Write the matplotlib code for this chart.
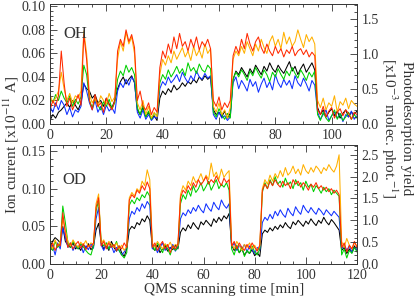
import numpy as np
import matplotlib
matplotlib.use("Agg")
import matplotlib.pyplot as plt
from matplotlib.ticker import MultipleLocator

# =========================================================================
# DATA  (ion current, units of 1e-3 x10^-11 A, one sample per minute)
# =========================================================================

oh_black = [3, 8, 5, 10, 12, 15, 18, 14, 20, 16, 12, 18, 34, 30,
            28, 22, 25, 18, 20, 15, 22, 17, 14, 20,
            30, 36, 40, 34, 38, 41, 35,
            12, 8, 14, 6, 10, 4, 7, 3,
            22, 28, 25, 30, 27, 33, 29, 31, 35, 32, 36, 34, 38, 35, 40, 37, 41, 38, 40,
            12, 8, 10, 6, 11, 5, 9,
            38, 45, 42, 48, 44, 40, 47, 43, 50, 46, 42, 49, 45, 52, 47, 44, 50, 46, 43, 48,
            53, 45, 49, 42, 47, 51, 44, 48, 52, 46,
            14, 8, 12, 6, 10, 13, 7, 11, 5, 9, 12, 6, 10, 8, 11]
oh_blue = [15, 10, 18, 12, 20, 16, 8, 14, 6, 12, 10, 15, 35, 28,
           18, 12, 20, 10, 15, 8, 16, 11, 14, 9,
           28, 35, 31, 38, 33, 40, 36,
           10, 5, 12, 4, 8, 3, 6, 5,
           30, 36, 33, 40, 35, 38, 42, 36, 44, 39, 35, 41, 37, 45, 40, 38, 43, 39, 41,
           8, 4, 10, 5, 7, 3, 6,
           35, 40, 30, 37, 33, 28, 38, 32, 36, 27, 34, 39, 31, 36, 29, 42, 35, 31, 38, 33,
           37, 30, 41, 35, 32, 39, 34, 28, 37, 33,
           10, 4, 8, 12, 3, 7, 10, 5, 9, 2, 8, 6, 11, 4, 7]
oh_green = [22, 18, 25, 20, 28, 22, 18, 24, 15, 21, 17, 23, 50, 42,
            20, 14, 22, 16, 12, 19, 15, 21, 13, 18,
            38, 45, 41, 50, 44, 48, 42,
            14, 8, 16, 6, 11, 4, 9, 7,
            35, 42, 38, 46, 40, 44, 49, 43, 47, 41, 52, 45, 48, 43, 51, 46, 44, 50, 47,
            10, 6, 13, 8, 4, 9, 5,
            38, 44, 40, 46, 42, 37, 45, 41, 48, 43, 39, 46, 42, 36, 44, 40, 47, 42, 38, 45,
            41, 48, 43, 39, 46, 42, 37, 44, 40, 45,
            8, 3, 10, 5, 2, 7, 12, 4, 9, 3, 6, 10, 4, 8, 5]
oh_orange = [25, 18, 22, 28, 44, 30, 20, 26, 18, 24, 22, 28, 79, 60,
             25, 18, 22, 15, 24, 20, 17, 26, 19, 23,
             55, 70, 62, 78, 68, 74, 60,
             18, 12, 20, 8, 15, 5, 10, 6,
             42, 55, 50, 58, 52, 62, 55, 60, 65, 57, 62, 54, 66, 58, 63, 56, 68, 60, 64,
             15, 10, 18, 8, 12, 5, 14,
             55, 62, 58, 66, 60, 70, 64, 58, 68, 62, 72, 65, 60, 70, 75, 66, 72, 64, 78, 68,
             74, 66, 70, 80, 72, 65, 76, 70, 74, 68,
             20, 14, 22, 12, 18, 15, 24, 10, 19, 16, 22, 13, 20, 17, 15]
oh_red = [12, 20, 15, 24, 62, 35, 15, 22, 12, 18, 25, 16, 76, 55,
          20, 12, 25, 15, 18, 10, 22, 16, 12, 20,
          62, 72, 66, 80, 70, 76, 65,
          20, 28, 15, 12, 18, 8, 14, 10,
          48, 62, 56, 68, 60, 74, 64, 77, 66, 70, 62, 72, 65, 74, 63, 70, 66, 72, 64,
          20, 15, 23, 12, 18, 14, 20,
          58, 66, 60, 72, 64, 77, 68, 62, 70, 74, 65, 60, 68, 62, 58, 66, 60, 64, 57, 63,
          60, 66, 58, 62, 64, 59, 63, 57, 61, 58,
          12, 8, 15, 6, 11, 14, 5, 10, 13, 7, 12, 9, 4, 10, 8]

od_black = [22, 30, 35, 32, 28, 50, 30,
            25, 22, 28, 20, 24, 18, 26, 21, 27, 19, 23, 45, 54,
            28, 20, 25, 18, 30, 22, 17, 24, 15, 10, 20,
            45, 50, 47, 55, 52, 60, 56, 64, 58,
            22, 18, 25, 15, 20, 24, 17, 22, 19, 25, 20,
            42, 48, 44, 52, 47, 55, 50, 46, 56, 52, 58, 54, 50, 60, 55, 62, 57, 64, 60, 67,
            25, 18, 22, 15, 20, 12, 17, 14, 19, 11, 15, 10,
            40, 45, 42, 48, 44, 50, 46, 52, 48, 55, 50, 47, 56, 52, 58, 54, 50, 57, 53, 60,
            55, 51, 58, 54, 62, 56, 52, 59, 55, 50, 45,
            18, 22, 14, 20, 16, 24, 18]
od_blue = [18, 25, 12, 28, 20, 48, 35,
           22, 28, 18, 25, 20, 26, 15, 24, 19, 27, 21, 60, 75,
           25, 18, 28, 20, 24, 15, 22, 18, 12, 16, 22,
           60, 70, 66, 75, 70, 80, 74, 83, 78,
           20, 25, 15, 22, 28, 18, 24, 20, 26, 17, 23,
           60, 68, 64, 72, 67, 75, 70, 78, 72, 68, 80, 74, 70, 82, 76, 72, 85, 78, 74, 80,
           22, 28, 18, 25, 20, 26, 16, 24, 19, 14, 22, 18,
           55, 62, 58, 66, 60, 70, 64, 72, 66, 62, 74, 68, 64, 76, 70, 66, 78, 72, 68, 75,
           70, 66, 74, 70, 65, 72, 68, 64, 70, 66, 62,
           20, 26, 18, 24, 15, 22, 19]
od_green = [25, 18, 30, 22, 27, 77, 55,
            28, 22, 30, 25, 20, 27, 23, 18, 14, 12, 24, 70, 85,
            30, 24, 28, 20, 26, 22, 30, 18, 12, 8, 15,
            78, 85, 80, 88, 84, 92, 88, 96, 90,
            25, 18, 28, 22, 15, 26, 20, 12, 24, 18, 22,
            80, 92, 86, 98, 90, 104, 95, 100, 108, 97, 103, 110, 98, 105, 112, 100, 106, 102, 108, 98,
            20, 12, 25, 15, 22, 10, 18, 14, 24, 16, 12, 20,
            95, 108, 100, 112, 104, 116, 106, 110, 102, 114, 105, 109, 100, 112, 104, 108, 98, 110, 102, 106,
            96, 104, 100, 94, 102, 96, 100, 92, 98, 94, 90,
            12, 20, 8, 18, 14, 22, 16]
od_orange = [28, 20, 32, 24, 30, 60, 45,
             30, 24, 32, 26, 22, 29, 25, 31, 23, 28, 26, 80, 93,
             28, 32, 24, 30, 26, 22, 28, 20, 25, 18, 24,
             88, 95, 90, 100, 96, 110, 104, 125, 112,
             28, 22, 30, 25, 20, 27, 23, 29, 21, 26, 24,
             92, 104, 98, 110, 104, 116, 108, 112, 120, 110, 118, 112, 134, 116, 122, 112, 126, 115, 120, 124,
             28, 20, 30, 24, 18, 26, 22, 28, 20, 25, 18, 24,
             100, 112, 106, 118, 110, 120, 114, 124, 116, 128, 118, 122, 130, 120, 126, 118, 132, 124, 120, 128,
             122, 130, 126, 120, 128, 124, 132, 126, 122, 130, 145,
             30, 22, 34, 25, 20, 28, 24]
od_red = [20, 28, 18, 26, 24, 68, 40,
          22, 28, 20, 26, 30, 21, 27, 19, 25, 22, 28, 75, 88,
          24, 30, 20, 28, 22, 26, 18, 24, 20, 28, 22,
          85, 92, 88, 98, 94, 104, 98, 109, 100,
          22, 28, 18, 25, 30, 20, 26, 15, 24, 20, 27,
          88, 98, 94, 104, 98, 108, 102, 112, 105, 110, 116, 106, 112, 108, 117, 110, 104, 114, 108, 112,
          24, 30, 20, 28, 22, 18, 26, 20, 28, 22, 17, 25,
          98, 106, 100, 110, 104, 112, 106, 102, 110, 104, 108, 100, 112, 106, 110, 102, 108, 104, 98, 106,
          102, 108, 100, 104, 98, 102, 96, 100, 94, 98, 92,
          22, 28, 16, 25, 20, 30, 22]

colors = ["black", "#1030ff", "#00d000", "#ffb000", "#ff2a00"]
oh_series = [oh_black, oh_blue, oh_green, oh_orange, oh_red]
od_series = [od_black, od_blue, od_green, od_orange, od_red]

# =========================================================================
# PLOT
# =========================================================================

plt.rcParams["font.family"] = ["Liberation Serif", "DejaVu Serif"]
plt.rcParams["mathtext.fontset"] = "stix"
plt.rcParams["font.size"] = 10
txt_col = "#333333"

fig = plt.figure(figsize=(4.15, 2.97), dpi=100)
ax_top = fig.add_axes([50 / 415, 1 - 124 / 297, 307 / 415, 120 / 297])
ax_bot = fig.add_axes([50 / 415, 1 - 264 / 297, 307 / 415, 119 / 297])


def style_axes(ax, ymax, ymaj, ymin, xmax, ymax_r, label, lab_xy):
    ax.set_xlim(0, xmax)
    ax.set_ylim(0, ymax)
    ax.xaxis.set_major_locator(MultipleLocator(20))
    ax.xaxis.set_minor_locator(MultipleLocator(5))
    ax.yaxis.set_major_locator(MultipleLocator(ymaj))
    ax.yaxis.set_minor_locator(MultipleLocator(ymin))
    ax.yaxis.set_major_formatter(plt.FormatStrFormatter("%.2f"))
    ax.tick_params(which="both", direction="in", top=True, right=False,
                   colors=txt_col, labelcolor=txt_col, width=0.6)
    ax.tick_params(which="major", length=5)
    ax.tick_params(which="minor", length=2.5)
    for s in ax.spines.values():
        s.set_linewidth(0.7)
        s.set_color(txt_col)
    ax.text(lab_xy[0], lab_xy[1], label, fontsize=12, color=txt_col,
            ha="center", va="center")

    axr = ax.twinx()
    axr.set_ylim(0, ymax_r)
    axr.yaxis.set_major_locator(MultipleLocator(0.5))
    axr.yaxis.set_minor_locator(MultipleLocator(0.1))
    axr.yaxis.set_major_formatter(plt.FormatStrFormatter("%.1f"))
    axr.tick_params(which="both", direction="in", colors=txt_col,
                    labelcolor=txt_col, width=0.6)
    axr.tick_params(which="major", length=5)
    axr.tick_params(which="minor", length=2.5)
    for s in axr.spines.values():
        s.set_visible(False)


for series, col in zip(oh_series, colors):
    y = np.array(series) * 1e-3
    ax_top.plot(np.arange(len(y)), y, color=col, lw=0.75)
for series, col in zip(od_series, colors):
    y = np.array(series) * 1e-3
    ax_bot.plot(np.arange(len(y)), y, color=col, lw=0.75)

style_axes(ax_top, 0.102, 0.02, 0.004, 109, 1.72, "OH", (8.9, 0.0765))
style_axes(ax_bot, 0.158, 0.05, 0.01, 120, 2.72, "OD", (9.4, 0.112))

fig.text(11 / 415, 1 - 145 / 297, "Ion current [x10$^{-11}$ A]", rotation=90,
         ha="center", va="center", color=txt_col, fontsize=11)
fig.text(406 / 415, 1 - 128 / 297, "Photodesorption yield",
         rotation=-90, ha="center", va="center", color=txt_col, fontsize=11)
fig.text(389 / 415, 1 - 128 / 297, "[x10$^{-3}$ molec. phot.$^{-1}$]",
         rotation=-90, ha="center", va="center", color=txt_col, fontsize=11)
fig.text(224 / 415, 1 - 289 / 297, "QMS scanning time [min]", ha="center",
         va="center", color=txt_col, fontsize=11)

fig.savefig("out.png", dpi=100)
